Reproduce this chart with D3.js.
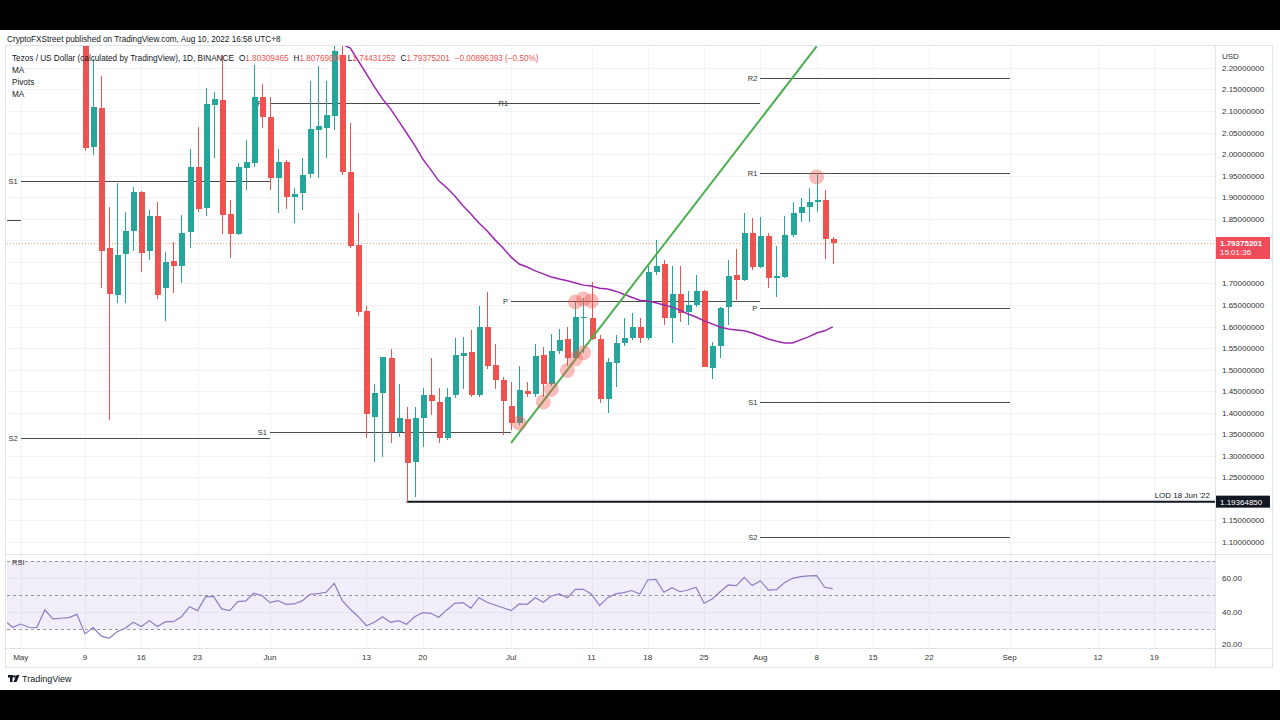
<!DOCTYPE html>
<html lang="en">
<head>
<meta charset="UTF-8">
<title>Tezos / US Dollar 1D</title>
<style>
  body { margin: 0; background: #000; overflow: hidden; }
  svg { display: block; font-family: "Liberation Sans", Arial, sans-serif; }
</style>
</head>
<body>
<script src="https://d3js.org/d3.v7.min.js"></script>
<script>
// daily candles, open / high / low / close, first one on 2022-05-09
const candleStart = "2022-05-09";
const candles = [
  [2.400, 2.450, 2.007, 2.014], [2.017, 2.220, 1.998, 2.110], [2.106, 2.182, 1.689, 1.775],
  [1.781, 1.878, 1.383, 1.675], [1.673, 1.932, 1.654, 1.766], [1.768, 1.866, 1.654, 1.822],
  [1.822, 1.924, 1.775, 1.913], [1.913, 1.914, 1.727, 1.771], [1.775, 1.870, 1.754, 1.857],
  [1.856, 1.888, 1.664, 1.673], [1.689, 1.773, 1.613, 1.749], [1.752, 1.797, 1.677, 1.741],
  [1.741, 1.859, 1.700, 1.816], [1.820, 2.012, 1.783, 1.971], [1.971, 2.064, 1.866, 1.872],
  [1.874, 2.153, 1.857, 2.116], [2.114, 2.145, 1.990, 2.128], [2.126, 2.230, 1.814, 1.859],
  [1.861, 1.894, 1.758, 1.814], [1.814, 1.979, 1.812, 1.969], [1.968, 2.033, 1.916, 1.981],
  [1.979, 2.207, 1.969, 2.133], [2.133, 2.162, 2.060, 2.087],
  // June
  [2.087, 2.133, 1.917, 1.944], [1.945, 2.012, 1.863, 1.981], [1.982, 1.986, 1.872, 1.900],
  [1.901, 1.921, 1.841, 1.907], [1.909, 1.990, 1.870, 1.952], [1.953, 2.170, 1.945, 2.058],
  [2.056, 2.205, 1.944, 2.065], [2.061, 2.169, 1.992, 2.091], [2.089, 2.300, 2.056, 2.240],
  [2.230, 2.300, 1.952, 1.958], [1.958, 2.071, 1.782, 1.786], [1.788, 1.863, 1.625, 1.633],
  [1.637, 1.648, 1.341, 1.397], [1.391, 1.466, 1.286, 1.446], [1.446, 1.530, 1.298, 1.529],
  [1.526, 1.547, 1.329, 1.356], [1.355, 1.466, 1.344, 1.387], [1.385, 1.414, 1.1936, 1.283],
  [1.286, 1.414, 1.205, 1.387], [1.387, 1.457, 1.321, 1.441], [1.441, 1.526, 1.395, 1.426],
  [1.424, 1.457, 1.329, 1.341], [1.341, 1.457, 1.337, 1.437], [1.441, 1.574, 1.433, 1.534],
  [1.531, 1.575, 1.454, 1.539], [1.541, 1.592, 1.437, 1.441], [1.441, 1.648, 1.437, 1.598],
  [1.598, 1.681, 1.501, 1.508], [1.511, 1.559, 1.454, 1.476], [1.476, 1.484, 1.348, 1.426],
  // July
  [1.416, 1.472, 1.360, 1.375], [1.375, 1.508, 1.371, 1.453], [1.451, 1.472, 1.437, 1.443],
  [1.443, 1.559, 1.437, 1.532], [1.534, 1.553, 1.437, 1.467], [1.467, 1.583, 1.462, 1.544],
  [1.544, 1.594, 1.536, 1.569], [1.570, 1.600, 1.508, 1.526], [1.526, 1.658, 1.522, 1.621],
  [1.619, 1.665, 1.538, 1.623], [1.619, 1.704, 1.569, 1.570], [1.570, 1.580, 1.423, 1.431],
  [1.431, 1.526, 1.400, 1.518], [1.516, 1.580, 1.460, 1.562], [1.561, 1.619, 1.555, 1.573],
  [1.573, 1.632, 1.569, 1.600], [1.600, 1.619, 1.561, 1.573], [1.573, 1.745, 1.569, 1.727],
  [1.727, 1.801, 1.719, 1.740], [1.745, 1.754, 1.603, 1.619], [1.620, 1.740, 1.561, 1.675],
  [1.675, 1.740, 1.611, 1.632], [1.634, 1.683, 1.603, 1.650], [1.650, 1.719, 1.646, 1.682],
  [1.682, 1.685, 1.505, 1.507], [1.503, 1.565, 1.478, 1.555], [1.555, 1.646, 1.526, 1.642],
  [1.646, 1.754, 1.603, 1.717], [1.719, 1.779, 1.661, 1.708], [1.709, 1.863, 1.706, 1.818],
  [1.818, 1.851, 1.731, 1.737],
  // August
  [1.737, 1.855, 1.735, 1.810], [1.810, 1.816, 1.689, 1.712], [1.713, 1.787, 1.668, 1.717],
  [1.715, 1.856, 1.713, 1.812], [1.812, 1.890, 1.808, 1.864], [1.863, 1.897, 1.843, 1.878],
  [1.878, 1.921, 1.843, 1.890], [1.890, 1.955, 1.866, 1.894], [1.894, 1.917, 1.756, 1.80309465],
  [1.80309465, 1.80769600, 1.74431252, 1.79375201]
];

// moving average, first value on 2022-06-09
const maStart = "2022-06-09";
const maValues = [
  2.270, 2.255, 2.246, 2.216, 2.186, 2.156, 2.128, 2.105, 2.077, 2.049, 2.021, 1.989,
  1.964, 1.938, 1.922, 1.903, 1.880, 1.861, 1.840, 1.822, 1.801, 1.782, 1.761, 1.745,
  1.738, 1.729, 1.722, 1.715, 1.710, 1.706, 1.701, 1.696, 1.694, 1.689, 1.687, 1.682,
  1.675, 1.668, 1.661, 1.659, 1.655, 1.650, 1.645, 1.638, 1.629, 1.622, 1.613, 1.606,
  1.599, 1.594, 1.592, 1.590, 1.585, 1.578, 1.571, 1.566, 1.562, 1.562, 1.569, 1.576,
  1.585, 1.590, 1.599
];

// RSI, first value on 2022-04-29
const rsiStart = "2022-04-29";
const rsiValues = [
  35.0, 31.0, 32.9, 31.0, 30.8, 41.2, 35.9, 36.3, 36.7, 38.6, 27.1, 30.8, 25.9, 24.5,
  28.4, 30.4, 33.9, 31.4, 34.9, 31.4, 34.3, 34.3, 37.2, 43.1, 40.8, 49.0, 49.0, 41.8,
  40.8, 46.1, 46.5, 51.0, 49.6, 45.5, 46.7, 44.5, 44.7, 46.5, 50.4, 50.8, 51.6, 56.9,
  46.7, 41.6, 37.2, 31.9, 33.9, 37.2, 33.9, 34.9, 32.8, 37.2, 39.6, 39.2, 36.9, 41.2,
  45.1, 45.5, 42.2, 48.4, 45.7, 44.1, 42.5, 40.8, 44.7, 44.5, 48.4, 45.7, 49.4, 50.6,
  48.4, 53.3, 53.3, 50.4, 43.7, 48.4, 50.6, 51.4, 52.6, 50.6, 58.8, 59.2, 51.6, 54.3,
  51.9, 52.9, 54.5, 45.1, 47.6, 51.9, 55.9, 55.5, 60.4, 55.5, 58.4, 52.9, 53.1, 57.2,
  59.8, 60.8, 61.2, 61.4, 54.5, 53.7
];
const rsiBands = [70, 50, 30];
const rsiTicks = [60, 40, 20];

// monthly pivot levels
const pivots = [
  { start: "2022-04-01", end: "2022-05-01", levels: [["S1", 1.847]] },
  { start: "2022-05-01", end: "2022-06-01", levels: [["S1", 1.938], ["S2", 1.341]] },
  { start: "2022-06-01", end: "2022-07-01", levels: [["R1", 2.119], ["S1", 1.355]] },
  { start: "2022-07-01", end: "2022-08-01", levels: [["R1", 2.119], ["P", 1.659]] },
  { start: "2022-08-01", end: "2022-09-01", levels: [["R2", 2.177], ["R1", 1.956], ["P", 1.643], ["S1", 1.425], ["S2", 1.112]] }
];

// drawn trend line and touch markers
const trendLine = [["2022-07-01", 1.330], ["2022-08-08", 2.250]];
const touches = [
  ["2022-07-02", 1.376], ["2022-07-05", 1.425], ["2022-07-06", 1.454], ["2022-07-08", 1.498],
  ["2022-07-09", 1.525], ["2022-07-10", 1.539], ["2022-07-09", 1.657], ["2022-07-10", 1.664],
  ["2022-07-11", 1.659], ["2022-08-08", 1.947]
];
const lod = { date: "2022-06-18", price: 1.1936485, label: "LOD 18 Jun '22", text: "1.19364850" };
const lastPrice = { price: 1.79375201, text: "1.79375201", countdown: "15:01:36" };

const priceTicks = [1.10, 1.15, 1.20, 1.25, 1.30, 1.35, 1.40, 1.45, 1.50, 1.55, 1.60, 1.65,
  1.70, 1.75, 1.80, 1.85, 1.90, 1.95, 2.00, 2.05, 2.10, 2.15, 2.20];
const timeTicks = ["2022-05-01", "2022-05-09", "2022-05-16", "2022-05-23", "2022-06-01", "2022-06-13",
  "2022-06-20", "2022-07-01", "2022-07-11", "2022-07-18", "2022-07-25", "2022-08-01", "2022-08-08",
  "2022-08-15", "2022-08-22", "2022-09-01", "2022-09-12", "2022-09-19"];
const timeLabels = ["May", "9", "16", "23", "Jun", "13", "20", "Jul", "11", "18", "25", "Aug", "8",
  "15", "22", "Sep", "12", "19"];

const publishedText = "CryptoFXStreet published on TradingView.com, Aug 10, 2022 16:58 UTC+8";
const symbolText = "Tezos / US Dollar (calculated by TradingView), 1D, BINANCE";
const ohlcText = [["O", "1.80309465"], ["H", "1.80769600"], ["L", "1.74431252"], ["C", "1.79375201"], ["", "\u22120.00896393 (\u22120.50%)"]];
const studyNames = ["MA", "Pivots", "MA"];

// layout
const W = 1280, H = 720;
const left = 7, right = 1215;
const mainTop = 46, mainBottom = 553;
const rsiTop = 555, rsiBottom = 648;
const axisBottom = 668;
const up = "#26a69a", down = "#ef5350", ink = "#131722";

const parse = d3.utcParse("%Y-%m-%d");
const x = d3.scaleUtc()
  .domain([new Date(Date.UTC(2022, 3, 29, 7, 6)), new Date(Date.UTC(2022, 8, 26, 13, 12))])
  .range([left, right]);
const y = d3.scaleLinear().domain([1.0745, 2.2508]).range([mainBottom, mainTop]);
const yr = d3.scaleLinear().domain([18.8, 73.5]).range([rsiBottom, rsiTop]);

const svg = d3.select("body").append("svg").attr("width", W).attr("height", H);
svg.append("rect").attr("width", W).attr("height", H).attr("fill", "#000");
svg.append("rect").attr("y", 30).attr("width", W).attr("height", 660).attr("fill", "#fff");

const defs = svg.append("defs");
defs.append("clipPath").attr("id", "clipMain").append("rect")
  .attr("x", left).attr("y", mainTop).attr("width", right - left).attr("height", mainBottom - mainTop);
defs.append("clipPath").attr("id", "clipRsi").append("rect")
  .attr("x", left).attr("y", rsiTop).attr("width", right - left).attr("height", rsiBottom - rsiTop);

// grid
const grid = svg.append("g").attr("stroke", "#f0f3fa").attr("shape-rendering", "crispEdges");
grid.selectAll("line.h").data(priceTicks).join("line")
  .attr("x1", left).attr("x2", right).attr("y1", d => Math.round(y(d)) + 0.5).attr("y2", d => Math.round(y(d)) + 0.5);
grid.selectAll("line.r").data(rsiTicks.slice(0, 2)).join("line")
  .attr("x1", left).attr("x2", right).attr("y1", d => Math.round(yr(d)) + 0.5).attr("y2", d => Math.round(yr(d)) + 0.5);
grid.selectAll("line.v").data(timeTicks).join("line")
  .attr("x1", d => Math.round(x(parse(d))) + 0.5).attr("x2", d => Math.round(x(parse(d))) + 0.5)
  .attr("y1", mainTop).attr("y2", rsiBottom);

// frame and pane separators
const frame = svg.append("g").attr("fill", "none").attr("stroke", "#e0e3eb").attr("shape-rendering", "crispEdges");
frame.append("rect").attr("x", 5.5).attr("y", mainTop - 0.5).attr("width", 1267).attr("height", axisBottom - mainTop);
frame.append("line").attr("x1", 5).attr("x2", 1273).attr("y1", mainBottom + 1.5).attr("y2", mainBottom + 1.5);
frame.append("line").attr("x1", 5).attr("x2", 1273).attr("y1", rsiBottom + 0.5).attr("y2", rsiBottom + 0.5);
frame.append("line").attr("x1", right + 0.5).attr("x2", right + 0.5).attr("y1", mainTop).attr("y2", axisBottom);

// main pane
const main = svg.append("g").attr("clip-path", "url(#clipMain)");

// last price dotted line
main.append("line")
  .attr("x1", left).attr("x2", right)
  .attr("y1", Math.round(y(lastPrice.price)) + 0.5).attr("y2", Math.round(y(lastPrice.price)) + 0.5)
  .attr("stroke", "#e8935a").attr("stroke-dasharray", "1,2").attr("opacity", 0.8);

// pivots
const pivotRows = pivots.flatMap(p => p.levels.map(([name, v]) => ({ name, v, start: parse(p.start), end: parse(p.end) })));
main.append("g").selectAll("line").data(pivotRows).join("line")
  .attr("x1", d => x(d.start)).attr("x2", d => x(d.end))
  .attr("y1", d => Math.round(y(d.v)) + 0.5).attr("y2", d => Math.round(y(d.v)) + 0.5)
  .attr("stroke", "#4a4a4a").attr("stroke-width", 1).attr("shape-rendering", "crispEdges");
main.append("g").selectAll("text").data(pivotRows.filter(d => x(d.start) > left + 10)).join("text")
  .attr("x", d => x(d.start) - 3).attr("y", d => y(d.v) + 3)
  .attr("text-anchor", "end").attr("font-size", 7.5).attr("fill", "#333")
  .text(d => d.name);

// lowest-of-day line
main.append("line")
  .attr("x1", x(parse(lod.date))).attr("x2", right)
  .attr("y1", y(lod.price)).attr("y2", y(lod.price))
  .attr("stroke", ink).attr("stroke-width", 2);
main.append("text").attr("x", 1210).attr("y", y(lod.price) - 4)
  .attr("text-anchor", "end").attr("font-size", 8).attr("fill", ink).text(lod.label);

// candles
const start = parse(candleStart);
const candleData = candles.map(([o, h, l, c], i) => ({ date: d3.utcDay.offset(start, i), o, h, l, c }));
const cg = main.append("g").attr("shape-rendering", "crispEdges");
cg.selectAll("line").data(candleData).join("line")
  .attr("x1", d => Math.round(x(d.date)) + 0.5).attr("x2", d => Math.round(x(d.date)) + 0.5)
  .attr("y1", d => y(d.h)).attr("y2", d => y(d.l))
  .attr("stroke", d => d.c >= d.o ? up : down).attr("stroke-width", 1);
cg.selectAll("rect").data(candleData).join("rect")
  .attr("x", d => Math.round(x(d.date)) - 2.5)
  .attr("width", 6)
  .attr("y", d => y(Math.max(d.o, d.c)))
  .attr("height", d => Math.max(1, Math.abs(y(d.o) - y(d.c))))
  .attr("fill", d => d.c >= d.o ? up : down);

// moving average
const maStartDate = parse(maStart);
main.append("path")
  .datum(maValues.map((v, i) => [d3.utcDay.offset(maStartDate, i), v]))
  .attr("fill", "none").attr("stroke", "#9c27b0").attr("stroke-width", 1.5)
  .attr("d", d3.line().x(d => x(d[0])).y(d => y(d[1])));

// trend line
main.append("line")
  .attr("x1", x(parse(trendLine[0][0]))).attr("y1", y(trendLine[0][1]))
  .attr("x2", x(parse(trendLine[1][0]))).attr("y2", y(trendLine[1][1]))
  .attr("stroke", "#4caf50").attr("stroke-width", 2);

// touch markers
main.append("g").selectAll("circle").data(touches).join("circle")
  .attr("cx", d => x(parse(d[0]))).attr("cy", d => y(d[1])).attr("r", 7.5)
  .attr("fill", "#ef5350").attr("fill-opacity", 0.38);

// price axis (labels hidden under the two price boxes are left out)
const lpY = y(lastPrice.price);
const lodY = y(lod.price);
const freeTick = d => Math.abs(y(d) - (lpY + 5)) > 14 && Math.abs(y(d) - lodY) > 9;
const axis = svg.append("g").attr("font-size", 8).attr("fill", "#333");
axis.append("text").attr("x", 1222).attr("y", 59).text("USD");
axis.selectAll("text.p").data(priceTicks.filter(freeTick)).join("text")
  .attr("x", 1222).attr("y", d => y(d) + 3)
  .text(d => d.toFixed(8));

// last price box
svg.append("rect").attr("x", 1216).attr("y", lpY - 6).attr("width", 54).attr("height", 22).attr("fill", "#ef4b5a");
svg.append("text").attr("x", 1220).attr("y", lpY + 3).attr("font-size", 8).attr("font-weight", "bold").attr("fill", "#fff").text(lastPrice.text);
svg.append("text").attr("x", 1220).attr("y", lpY + 12.5).attr("font-size", 8).attr("fill", "#fff").text(lastPrice.countdown);

// LOD price box
svg.append("rect").attr("x", 1216).attr("y", lodY - 6).attr("width", 54).attr("height", 12).attr("fill", ink);
svg.append("text").attr("x", 1220).attr("y", lodY + 3).attr("font-size", 8).attr("fill", "#fff").text(lod.text);

// RSI pane
const rsiG = svg.append("g").attr("clip-path", "url(#clipRsi)");
rsiG.append("rect").attr("x", left).attr("width", right - left)
  .attr("y", yr(rsiBands[0])).attr("height", yr(rsiBands[2]) - yr(rsiBands[0]))
  .attr("fill", "#7e57c2").attr("fill-opacity", 0.1);
rsiG.selectAll("line.band").data(rsiBands).join("line")
  .attr("x1", left).attr("x2", right)
  .attr("y1", d => Math.round(yr(d)) + 0.5).attr("y2", d => Math.round(yr(d)) + 0.5)
  .attr("stroke", "#9598a1").attr("stroke-dasharray", "3,3");
const rsiStartDate = parse(rsiStart);
rsiG.append("path")
  .datum(rsiValues.map((v, i) => [d3.utcDay.offset(rsiStartDate, i), v]))
  .attr("fill", "none").attr("stroke", "#8e7cc3").attr("stroke-width", 1.2)
  .attr("d", d3.line().x(d => x(d[0])).y(d => yr(d[1])));
svg.append("text").attr("x", 12).attr("y", 565).attr("font-size", 7.5).attr("fill", "#333").text("RSI");

svg.append("g").attr("font-size", 8).attr("fill", "#333")
  .selectAll("text").data(rsiTicks).join("text")
  .attr("x", 1222).attr("y", d => Math.min(yr(d) + 3, rsiBottom - 1)).text(d => d.toFixed(2));

// time axis
svg.append("g").attr("font-size", 8).attr("fill", "#333").attr("text-anchor", "middle")
  .selectAll("text").data(timeTicks).join("text")
  .attr("x", d => x(parse(d))).attr("y", 660)
  .text((d, i) => timeLabels[i]);

// header texts
svg.append("text").attr("x", 7).attr("y", 42).attr("font-size", 8.2).attr("fill", ink).text(publishedText);
const legend = svg.append("text").attr("x", 12).attr("y", 61).attr("font-size", 8.2).attr("fill", ink);
legend.append("tspan").text(symbolText);
ohlcText.forEach(([k, v]) => {
  if (k) legend.append("tspan").attr("dx", 5).attr("fill", ink).text(k);
  const t = legend.append("tspan").attr("fill", down).text(v);
  if (!k) t.attr("dx", 5);
});
svg.append("g").attr("font-size", 8.2).attr("fill", ink)
  .selectAll("text").data(studyNames).join("text")
  .attr("x", 12).attr("y", (d, i) => 73 + i * 12).text(d => d);

// TradingView mark
const logo = svg.append("g").attr("fill", ink);
logo.append("rect").attr("x", 8).attr("y", 675).attr("width", 5).attr("height", 2.5);
logo.append("rect").attr("x", 10).attr("y", 675).attr("width", 2.5).attr("height", 7);
logo.append("circle").attr("cx", 14.5).attr("cy", 676.5).attr("r", 1.3);
logo.append("path").attr("d", "M16.5,675 L19.5,675 L16.5,682 L13.5,682 Z");
svg.append("text").attr("x", 22).attr("y", 682).attr("font-size", 9).attr("fill", ink).text("TradingView");
</script>
</body>
</html>
